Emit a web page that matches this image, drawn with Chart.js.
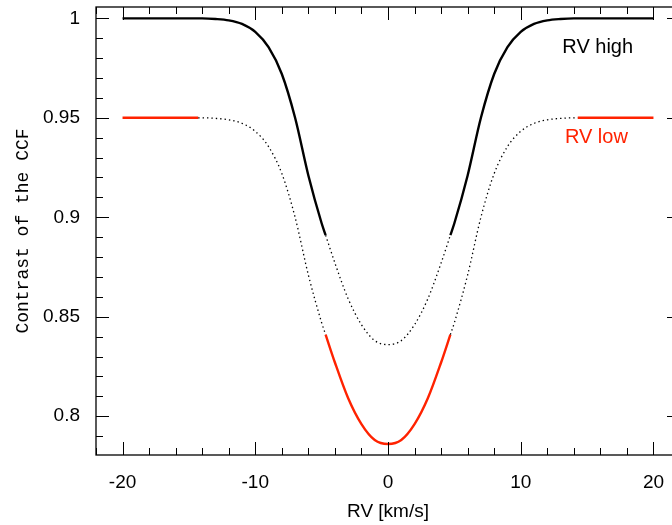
<!DOCTYPE html>
<html>
<head>
<meta charset="utf-8">
<script src="https://cdn.jsdelivr.net/npm/chart.js@4.4.1/dist/chart.umd.min.js"></script>
<style>
  html, body { margin: 0; padding: 0; background: #fff; overflow: hidden; }
  #wrap { width: 700px; height: 525px; }
</style>
</head>
<body>
<div id="wrap"><canvas id="ccfChart" width="700" height="525"></canvas></div>
<script>
// radial velocity grid [km/s]
const rv = [-20, -18, -16, -14.3, -14, -13, -12, -11, -10, -9, -8, -7, -6, -5, -4.7, -4, -3, -2, -1, 0,
            1, 2, 3, 4, 4.7, 5, 6, 7, 8, 9, 10, 11, 12, 13, 14, 14.3, 16, 18, 20];
// CCF contrast
const rvHigh = [1, 1, 1, 1, 1, 0.9997, 0.999, 0.9972, 0.9932, 0.9855, 0.972, 0.950, 0.921, 0.897, 0.891, 0.877, 0.859, 0.846, 0.838, 0.836,
                0.838, 0.846, 0.859, 0.877, 0.891, 0.897, 0.921, 0.950, 0.972, 0.9855, 0.9932, 0.9972, 0.999, 0.9997, 1, 1, 1, 1, 1];
const rvLow = [0.95, 0.95, 0.95, 0.95, 0.95, 0.9497, 0.949, 0.9472, 0.9432, 0.9355, 0.922, 0.900, 0.871, 0.847, 0.841, 0.827, 0.809, 0.796, 0.788, 0.786,
               0.788, 0.796, 0.809, 0.827, 0.841, 0.847, 0.871, 0.900, 0.922, 0.9355, 0.9432, 0.9472, 0.949, 0.9497, 0.95, 0.95, 0.95, 0.95, 0.95];

const xTicks = [-20, -10, 0, 10, 20];
const yTicks = [0.8, 0.85, 0.9, 0.95, 1];
const yTickLabels = ['0.8', '0.85', '0.9', '0.95', '1'];

const RED = '#ff2200';

// split a series into the part that is kept (others become gaps)
function part(vals, keep) {
    return rv.map((x, i) => ({ x: x, y: keep(Math.abs(x)) ? vals[i] : null }));
}

function lineSet(data, color, width, dash) {
    return {
        data: data,
        borderColor: color,
        borderWidth: width,
        borderDash: dash,
        pointRadius: 0,
        fill: false,
        spanGaps: false,
        cubicInterpolationMode: 'monotone'
    };
}

//frame + inward ticks on all four sides, and the two labels
const frameTicks = {
    id: 'frameTicks',
    afterDatasetsDraw(chart) {
        const { ctx, chartArea: a, scales: { x, y } } = chart;
        ctx.save();
        ctx.strokeStyle = '#000';
        ctx.lineWidth = 1.3;
        ctx.strokeRect(a.left, a.top, a.right - a.left, a.bottom - a.top);

        ctx.lineWidth = 1;
        ctx.beginPath();
        for (let v = -22; v <= 22; v += 2) {
            const px = Math.round(x.getPixelForValue(v)) + 0.5;
            const len = v % 10 === 0 ? 13 : 7;
            ctx.moveTo(px, a.bottom); ctx.lineTo(px, a.bottom - len);
            ctx.moveTo(px, a.top); ctx.lineTo(px, a.top + len);
        }
        for (let k = 79; k <= 100; k++) {
            const py = Math.round(y.getPixelForValue(k / 100)) + 0.5;
            const len = k % 5 === 0 ? 13 : 7;
            ctx.moveTo(a.left, py); ctx.lineTo(a.left + len, py);
            ctx.moveTo(a.right, py); ctx.lineTo(a.right - len, py);
        }
        ctx.stroke();

        ctx.font = '20px "Liberation Sans", Arial, sans-serif';
        ctx.textAlign = 'center';
        ctx.textBaseline = 'middle';
        ctx.fillStyle = '#000';
        ctx.fillText('RV high', x.getPixelForValue(15.8), y.getPixelForValue(0.9856));
        ctx.fillStyle = RED;
        ctx.fillText('RV low', x.getPixelForValue(15.7), y.getPixelForValue(0.9403));
        ctx.restore();
    }
};

const ctx = document.getElementById('ccfChart').getContext('2d');

new Chart(ctx, {
    type: 'line',
    data: {
        datasets: [
            lineSet(part(rvHigh, ax => ax <= 4.7), '#000', 1.3, [1.4, 3]),
            lineSet(part(rvLow, ax => ax >= 4.7 && ax <= 14.3), '#000', 1.3, [1.4, 3]),
            lineSet(part(rvHigh, ax => ax >= 4.7), '#000', 2.4, []),
            lineSet(part(rvLow, ax => ax <= 4.7), RED, 2.4, []),
            lineSet(part(rvLow, ax => ax >= 14.3), RED, 2.4, [])
        ]
    },
    options: {
        responsive: false,
        animation: false,
        layout: { padding: { left: 0, top: 7, right: 20, bottom: 0 } },
        plugins: { legend: { display: false }, tooltip: { enabled: false } },
        scales: {
            x: {
                type: 'linear',
                min: -22,
                max: 22,
                afterBuildTicks: s => { s.ticks = xTicks.map(v => ({ value: v })); },
                afterFit: s => { s.height = 70; s.paddingLeft = 0; s.paddingRight = 0; },
                grid: { display: false, drawTicks: false },
                border: { display: false },
                ticks: {
                    color: '#000',
                    padding: 16,
                    maxRotation: 0,
                    font: { family: '"Liberation Sans", Arial, sans-serif', size: 19 }
                },
                title: {
                    display: true,
                    text: 'RV [km/s]',
                    color: '#000',
                    padding: { top: 0, bottom: 2 },
                    font: { family: '"Liberation Sans", Arial, sans-serif', size: 19 }
                }
            },
            y: {
                type: 'linear',
                min: 0.7805,
                max: 1.0057,
                afterBuildTicks: s => { s.ticks = yTicks.map(v => ({ value: v })); },
                afterFit: s => { s.width = 96; s.paddingTop = 0; s.paddingBottom = 0; },
                grid: { display: false, drawTicks: false },
                border: { display: false },
                ticks: {
                    color: '#000',
                    padding: 16,
                    callback: (v, i) => yTickLabels[i],
                    font: { family: '"Liberation Sans", Arial, sans-serif', size: 19 }
                },
                title: {
                    display: true,
                    text: 'Contrast of the CCF',
                    color: '#000',
                    padding: { top: 12, bottom: 0 },
                    font: { family: '"Liberation Mono", monospace', size: 18 }
                }
            }
        }
    },
    plugins: [frameTicks]
});
</script>
</body>
</html>
